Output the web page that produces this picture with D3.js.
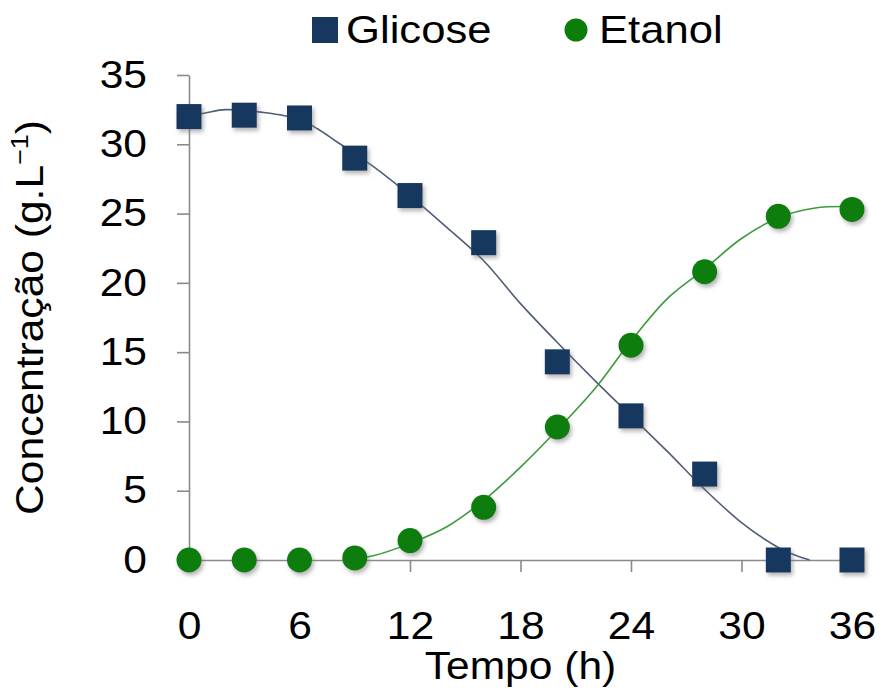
<!DOCTYPE html>
<html lang="pt">

<head>
  <meta charset="UTF-8">
  <script src="https://d3js.org/d3.v7.min.js"></script>
  <title>Glicose e Etanol</title>
  <style>
    body { margin: 0; background: #fff; }
    text { font-family: "Liberation Sans", Arial, sans-serif; fill: #000; }
  </style>
</head>

<body>
</body>
<script>
  // pontos medidos
  let tempo = [0, 3, 6, 9, 12, 16, 20, 24, 28, 32, 36]
  let glicose = [32.0, 32.1, 31.9, 29.0, 26.3, 22.9, 14.3, 10.4, 6.2, 0, 0]
  let etanol = [0, 0, 0, 0.15, 1.4, 3.8, 9.6, 15.5, 20.8, 24.8, 25.3]

  // curvas ajustadas
  let fitTempoGlicose = [0, 1, 2, 4, 6, 7, 8, 10, 12, 14, 16, 18, 20, 22, 24, 26, 28, 30, 32, 33, 33.7]
  let fitGlicose = [32.0, 32.3, 32.5, 32.3, 31.8, 31.1, 30.2, 28.4, 26.3, 24.0, 21.6, 18.5, 15.7, 13.0, 10.4, 7.8, 5.1, 2.7, 0.9, 0.3, 0]
  let fitTempoEtanol = [9, 10, 12, 14, 16, 18, 20, 22, 24, 26, 28, 30, 32, 34, 36]
  let fitEtanol = [0.1, 0.3, 1.2, 2.4, 4.3, 6.7, 9.4, 12.3, 15.8, 18.9, 21.0, 23.2, 24.7, 25.4, 25.5]

  let xTicks = [0, 6, 12, 18, 24, 30, 36]
  let yTicks = [0, 5, 10, 15, 20, 25, 30, 35]

  let width = 884
  let height = 700
  let stretch = 1.12 // o texto do original é um pouco alargado

  let svg = d3.select('body')
    .append('svg')
    .attr('width', width)
    .attr('height', height)

  // sombra dos marcadores
  let filter = svg.append('defs').append('filter')
    .attr('id', 'sombra')
    .attr('x', '-50%').attr('y', '-50%')
    .attr('width', '200%').attr('height', '200%')
  filter.append('feDropShadow')
    .attr('dx', 2).attr('dy', 3)
    .attr('stdDeviation', 2)
    .attr('flood-color', '#777')
    .attr('flood-opacity', 0.55)

  let x = d3.scaleLinear().domain([0, 36]).range([189, 852])
  let y = d3.scaleLinear().domain([0, 35]).range([560, 75])

  // eixo x
  let gx = svg.append('g')
    .attr('transform', `translate(0,${y(0)})`)
    .call(d3.axisBottom(x).tickValues(xTicks).tickSize(12).tickPadding(40).tickSizeOuter(0))
  gx.select('.domain').attr('stroke', '#8a8a8a').attr('stroke-width', 1.6)
  gx.selectAll('.tick line').attr('stroke', '#8a8a8a').attr('stroke-width', 1.6)
  gx.selectAll('.tick text')
    .attr('font-size', 38)
    .attr('font-family', '"Liberation Sans", Arial, sans-serif')
    .attr('transform', `scale(${stretch},1)`)

  // eixo y
  let gy = svg.append('g')
    .attr('transform', `translate(${x(0)},0)`)
    .call(d3.axisLeft(y).tickValues(yTicks).tickSize(12).tickPadding(30).tickSizeOuter(0))
  gy.select('.domain').attr('stroke', '#8a8a8a').attr('stroke-width', 1.6)
  gy.selectAll('.tick line').attr('stroke', '#8a8a8a').attr('stroke-width', 1.6)
  gy.selectAll('.tick text')
    .attr('font-size', 38)
    .attr('font-family', '"Liberation Sans", Arial, sans-serif')
    .attr('x', 0)
    .attr('transform', `translate(-42,0) scale(${stretch},1)`)

  // títulos dos eixos
  svg.append('text')
    .attr('transform', `translate(${(x(0) + x(36)) / 2},679) scale(${stretch},1)`)
    .attr('text-anchor', 'middle')
    .attr('font-size', 38)
    .text('Tempo (h)')

  let yTitle = svg.append('text')
    .attr('transform', `translate(43,${(y(0) + y(35)) / 2}) rotate(-90) scale(${stretch},1)`)
    .attr('text-anchor', 'middle')
    .attr('font-size', 38)
  yTitle.append('tspan').text('Concentração (g.L')
  yTitle.append('tspan').attr('font-size', 24).attr('dy', -15).text('−1')
  yTitle.append('tspan').attr('dy', 15).text(')')

  // curvas ajustadas
  let line = d3.line()
    .x(d => x(d[0]))
    .y(d => y(d[1]))
    .curve(d3.curveCatmullRom)

  svg.append('path')
    .datum(d3.zip(fitTempoGlicose, fitGlicose))
    .attr('d', line)
    .attr('fill', 'none')
    .attr('stroke', '#4f5d78')
    .attr('stroke-width', 1.6)

  svg.append('path')
    .datum(d3.zip(fitTempoEtanol, fitEtanol))
    .attr('d', line)
    .attr('fill', 'none')
    .attr('stroke', '#3d9a3d')
    .attr('stroke-width', 1.6)

  // marcadores
  let side = 25
  svg.append('g')
    .attr('filter', 'url(#sombra)')
    .selectAll('rect')
    .data(d3.zip(tempo, glicose))
    .enter()
    .append('rect')
    .attr('x', d => x(d[0]) - side / 2)
    .attr('y', d => y(d[1]) - side / 2)
    .attr('width', side)
    .attr('height', side)
    .attr('fill', '#17375e')

  svg.append('g')
    .attr('filter', 'url(#sombra)')
    .selectAll('circle')
    .data(d3.zip(tempo, etanol))
    .enter()
    .append('circle')
    .attr('cx', d => x(d[0]))
    .attr('cy', d => y(d[1]))
    .attr('r', 12.5)
    .attr('fill', '#0a7d0a')

  // legenda
  let legend = svg.append('g')
  legend.append('rect')
    .attr('x', 312).attr('y', 17)
    .attr('width', 26).attr('height', 26)
    .attr('fill', '#17375e')
  legend.append('text')
    .attr('transform', `translate(346,43) scale(${stretch},1)`)
    .attr('font-size', 39)
    .text('Glicose')
  legend.append('circle')
    .attr('cx', 576).attr('cy', 30)
    .attr('r', 11.5)
    .attr('fill', '#0a7d0a')
  legend.append('text')
    .attr('transform', `translate(599,43) scale(${stretch},1)`)
    .attr('font-size', 39)
    .text('Etanol')
</script>

</html>
